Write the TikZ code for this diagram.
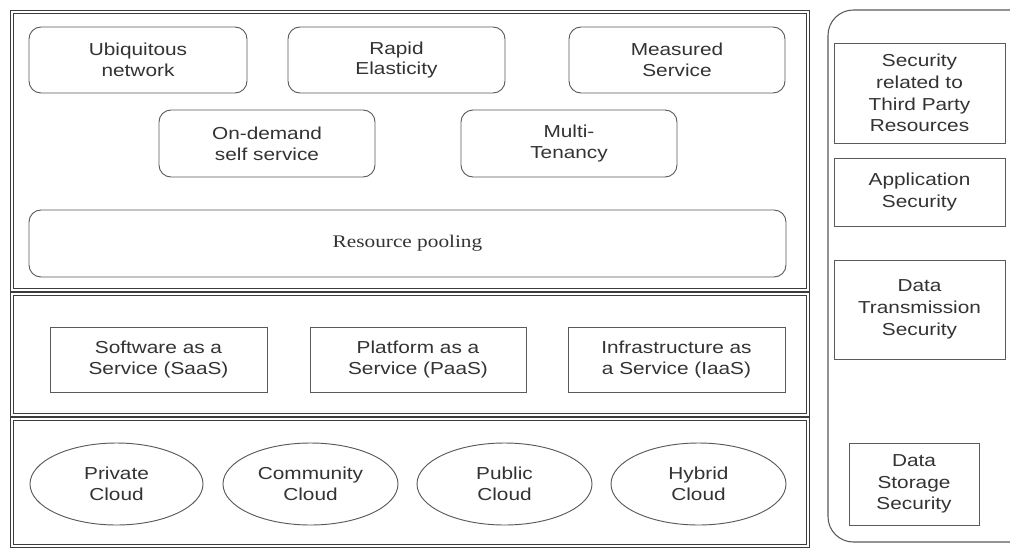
\documentclass[tikz,border=0pt]{standalone}
\usepackage{fontspec}
\setmainfont{Liberation Sans}[FakeStretch=1.2]
\newfontfamily\tnr{Liberation Serif}[FakeStretch=1.2]
\usetikzlibrary{shapes.geometric}
\definecolor{ln}{HTML}{5A5A5A}
\definecolor{pl}{HTML}{3C3C3C}
\definecolor{tx}{HTML}{333333}
\begin{document}
\begin{tikzpicture}[x=0.75pt,y=-0.75pt,
  sz/.style 2 args={minimum width=#1*0.75pt, minimum height=#2*0.75pt},
  panel/.style={draw=pl, double=white, double distance=1.7pt, line width=0.9pt, inner sep=0pt},
  base/.style={draw=ln, line width=0.7pt, inner sep=0pt, align=center, text=tx, font=\fontsize{13}{15.5}\selectfont},
  rbox/.style={base, rounded corners=9pt},
  sbox/.style={base},
  secbox/.style={base, font=\fontsize{13}{16.3}\selectfont},
  cloud/.style={base, ellipse}]
\useasboundingbox (0,0) rectangle (1010,550);
\fill[white] (0,0) rectangle (1010,550);
% panels
\node[panel, sz={796}{278}] (toppanel) at (410,151) {};
\node[panel, sz={796}{121}] (midpanel) at (410,354.5) {};
\node[panel, sz={796}{127}] (botpanel) at (410,482.5) {};
% right security column
\begin{scope}
\clip (0,0) rectangle (1010,550);
\draw[ln, line width=0.8pt, rounded corners=19pt] (828,10) rectangle (1045,542);
\end{scope}
% characteristics
\node[rbox, sz={218}{66}] (ubi) at (138,60) {Ubiquitous\\network};
\node[rbox, sz={217}{66}] (rapid) at (396.5,60) {Rapid\\Elasticity};
\node[rbox, sz={216}{66}] (meas) at (677,60) {Measured\\Service};
\node[rbox, sz={216}{67}] (ondem) at (267,143.5) {On-demand\\self service};
\node[rbox, sz={216}{67}] (multi) at (569,143.5) {Multi-\\Tenancy};
\node[rbox, sz={757}{67}, font=\tnr\fontsize{13.3}{15.5}\selectfont] (pool) at (407.5,243.5) {Resource pooling};
% service models
\node[sbox, sz={217}{65}] (saas) at (158.5,359.5) {Software as a\\Service (SaaS)};
\node[sbox, sz={216}{65}] (paas) at (418,359.5) {Platform as a\\Service (PaaS)};
\node[sbox, sz={217}{65}] (iaas) at (676.5,359.5) {Infrastructure as\\a Service (IaaS)};
% deployment models
\node[cloud, sz={173}{82}] (priv) at (116.5,484) {Private\\Cloud};
\node[cloud, sz={175}{82}] (comm) at (310.5,484) {Community\\Cloud};
\node[cloud, sz={175}{82}] (pub) at (504.5,484) {Public\\Cloud};
\node[cloud, sz={175}{82}] (hyb) at (698.5,484) {Hybrid\\Cloud};
% security boxes
\node[secbox, sz={171}{100}] (third) at (919.5,93) {Security\\related to\\Third Party\\Resources};
\node[secbox, sz={171}{68}] (appsec) at (919.5,192) {Application\\Security};
\node[secbox, sz={171}{99}] (trans) at (919.5,309.5) {Data\\Transmission\\Security};
\node[secbox, sz={130}{82}] (store) at (914,484) {Data\\Storage\\Security};
\end{tikzpicture}
\end{document}
